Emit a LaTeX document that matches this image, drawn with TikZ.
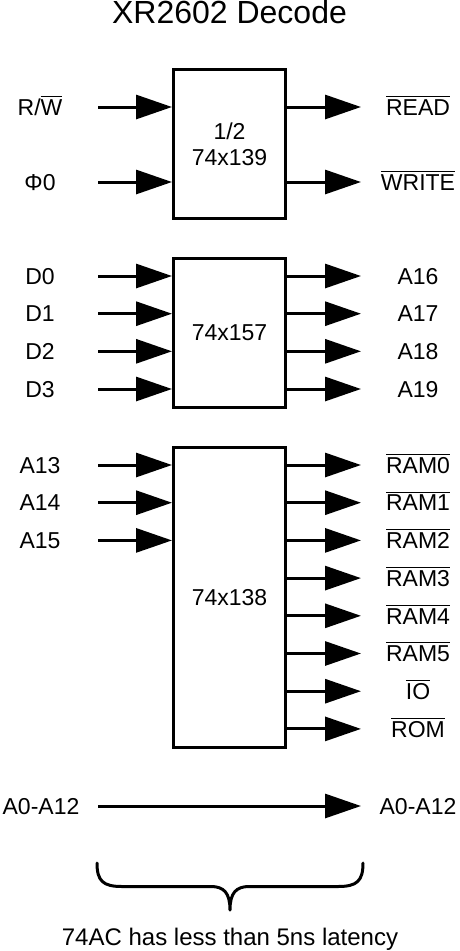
\documentclass[tikz,border=0pt]{standalone}
\usepackage{fontspec}
\setmainfont{Liberation Sans}
\usetikzlibrary{arrows.meta}
\newcommand{\ovl}[1]{\vbox{\hrule height 1pt\kern 2.5pt\hbox{#1}}}
\begin{document}
\begin{tikzpicture}[x=1pt,y=-1pt,
  lbl/.style={anchor=base, inner sep=0pt, font=\fontsize{23}{27}\selectfont},
  chip/.style={draw, line width=3pt, minimum width=112pt, align=center, font=\fontsize{23}{26}\selectfont},
  sig/.style={line width=3pt, -{Triangle[length=36pt,width=24pt]}},
  brace/.style={line width=3pt, line cap=round, line join=round}]
\useasboundingbox (0,0) rectangle (459,951);
\fill[white] (0,0) rectangle (459,951);
\node[anchor=base, font=\fontsize{32}{36}\selectfont] (title) at (229.5,23.5) {XR2602 Decode};

% 74x139
\node[chip, minimum height=149pt] (b1) at (229.5,144) {1/2\\74x139};
\node[lbl] (lrw) at (40,115.2) {R/\ovl{W}};
\coordinate (irw) at (98,107);
\draw[sig] (irw) -- (irw -| b1.west);
\node[lbl] (lph) at (40,190.2) {Φ0};
\coordinate (iph) at (98,182);
\draw[sig] (iph) -- (iph -| b1.west);
\node[lbl] (lrd) at (418,115.2) {\ovl{READ}};
\coordinate (ord) at (361,107);
\draw[sig] (ord -| b1.east) -- (ord);
\node[lbl] (lwr) at (418,190.2) {\ovl{WRITE}};
\coordinate (owr) at (361,182);
\draw[sig] (owr -| b1.east) -- (owr);

% 74x157
\node[chip, minimum height=149pt] (b2) at (229.5,333) {74x157};
\foreach \n/\y/\t/\u in {0/276/D0/A16, 1/313.7/D1/A17, 2/351.3/D2/A18, 3/389/D3/A19} {
  \node[lbl] (ld\n) at (40,\y+8.2) {\t};
  \coordinate (id\n) at (98,\y);
  \draw[sig] (id\n) -- (id\n -| b2.west);
  \node[lbl] (ra\n) at (418,\y+8.2) {\u};
  \coordinate (oa\n) at (361,\y);
  \draw[sig] (oa\n -| b2.east) -- (oa\n);
}

% 74x138
\node[chip, minimum height=300pt] (b3) at (229.5,597.5) {74x138};
\foreach \n/\y in {13/465, 14/502.7, 15/540.4} {
  \node[lbl] (la\n) at (40,\y+8.2) {A\n};
  \coordinate (ia\n) at (98,\y);
  \draw[sig] (ia\n) -- (ia\n -| b3.west);
}
\foreach \n/\y/\t in {0/465/RAM0, 1/502.7/RAM1, 2/540.4/RAM2, 3/578.1/RAM3, 4/615.8/RAM4, 5/653.5/RAM5, 6/691.2/IO, 7/728.9/ROM} {
  \node[lbl] (rs\n) at (418,\y+8.2) {\ovl{\t}};
  \coordinate (os\n) at (361,\y);
  \draw[sig] (os\n -| b3.east) -- (os\n);
}

% A0-A12 pass-through
\node[lbl] (lab) at (41,814.2) {A0-A12};
\node[lbl] (rab) at (418,814.2) {A0-A12};
\coordinate (iab) at (98,806);
\coordinate (oab) at (361,806);
\draw[sig] (iab) -- (oab);

% brace
\draw[brace] (97,863) .. controls (97,881) and (103,886.5) .. (122,886.5) -- (211,886.5)
  .. controls (224,886.5) and (230,893) .. (230,910)
  .. controls (230,893) and (236,886.5) .. (249,886.5) -- (338,886.5)
  .. controls (357,886.5) and (363,881) .. (363,863);
\node[anchor=base, font=\fontsize{24}{28}\selectfont] (note) at (230,945) {74AC has less than 5ns latency};
\end{tikzpicture}
\end{document}
